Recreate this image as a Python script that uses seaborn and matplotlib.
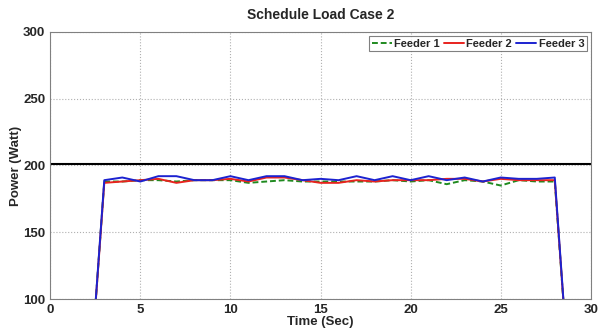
import matplotlib
matplotlib.use("Agg")
import matplotlib.pyplot as plt
import seaborn as sns
import pandas as pd

time = list(range(0, 31))
feeder1 = [0, 0, 0, 188, 188, 189, 189, 188, 189, 189, 189, 187, 188, 189, 188, 188, 188, 188, 188, 189, 188, 189, 186, 189, 188, 185, 189, 188, 188, 0, 0]
feeder2 = [0, 0, 0, 187, 188, 189, 190, 187, 189, 189, 190, 188, 191, 191, 189, 187, 187, 189, 188, 189, 189, 189, 190, 190, 188, 190, 189, 189, 189, 0, 0]
feeder3 = [0, 0, 0, 189, 191, 188, 192, 192, 189, 189, 192, 189, 192, 192, 189, 190, 189, 192, 189, 192, 189, 192, 189, 191, 188, 191, 190, 190, 191, 0, 0]
limit_x = [0, 30]
limit_y = [201, 201]

df = pd.DataFrame({
    "Time": time * 3,
    "Power": feeder1 + feeder2 + feeder3,
    "Feeder": ["Feeder 1"] * len(time) + ["Feeder 2"] * len(time) + ["Feeder 3"] * len(time),
})

sns.set_style("white")
plt.rcParams["font.family"] = ["Liberation Sans", "DejaVu Sans"]
fig = plt.figure(figsize=(5.98, 3.29), dpi=100)
ax = fig.add_axes([0.084, 0.091, 0.904, 0.812])

ax.plot(limit_x, limit_y, color="black", lw=1.5, zorder=1)
palette = {"Feeder 1": "#1f8a1f", "Feeder 2": "#e8231e", "Feeder 3": "#1c22d0"}
sns.lineplot(data=df, x="Time", y="Power", hue="Feeder", style="Feeder",
             dashes={"Feeder 1": (3, 1.5), "Feeder 2": "", "Feeder 3": ""},
             palette=palette, lw=1.4, ax=ax, zorder=2)

ax.set_xlim(0, 30)
ax.set_ylim(100, 300)
ax.set_xticks([0, 5, 10, 15, 20, 25, 30])
ax.set_yticks([100, 150, 200, 250, 300])
ax.grid(True, linestyle=":", color="#b0b0b0", lw=0.8)
for s in ax.spines.values():
    s.set_color("#808080")
    s.set_linewidth(0.8)
ax.tick_params(axis="both", labelsize=9.5, direction="in", length=3, color="#808080")
for lab in ax.get_xticklabels() + ax.get_yticklabels():
    lab.set_fontweight("bold")
ax.set_title("Schedule Load Case 2", fontsize=10, fontweight="bold", pad=9)
ax.set_xlabel("Time (Sec)", fontsize=9.5, fontweight="bold", labelpad=0)
ax.set_ylabel("Power (Watt)", fontsize=9.5, fontweight="bold", labelpad=1)

leg = ax.legend(loc="upper right", ncol=3, prop={"weight": "bold", "size": 8},
                frameon=True, fancybox=False, handlelength=1.8, handletextpad=0.2,
                columnspacing=0.4, borderpad=0.25, borderaxespad=0.35, title=None)
leg.get_frame().set_edgecolor("#606060")
leg.get_frame().set_linewidth(0.8)

fig.savefig("out.png", dpi=100)
